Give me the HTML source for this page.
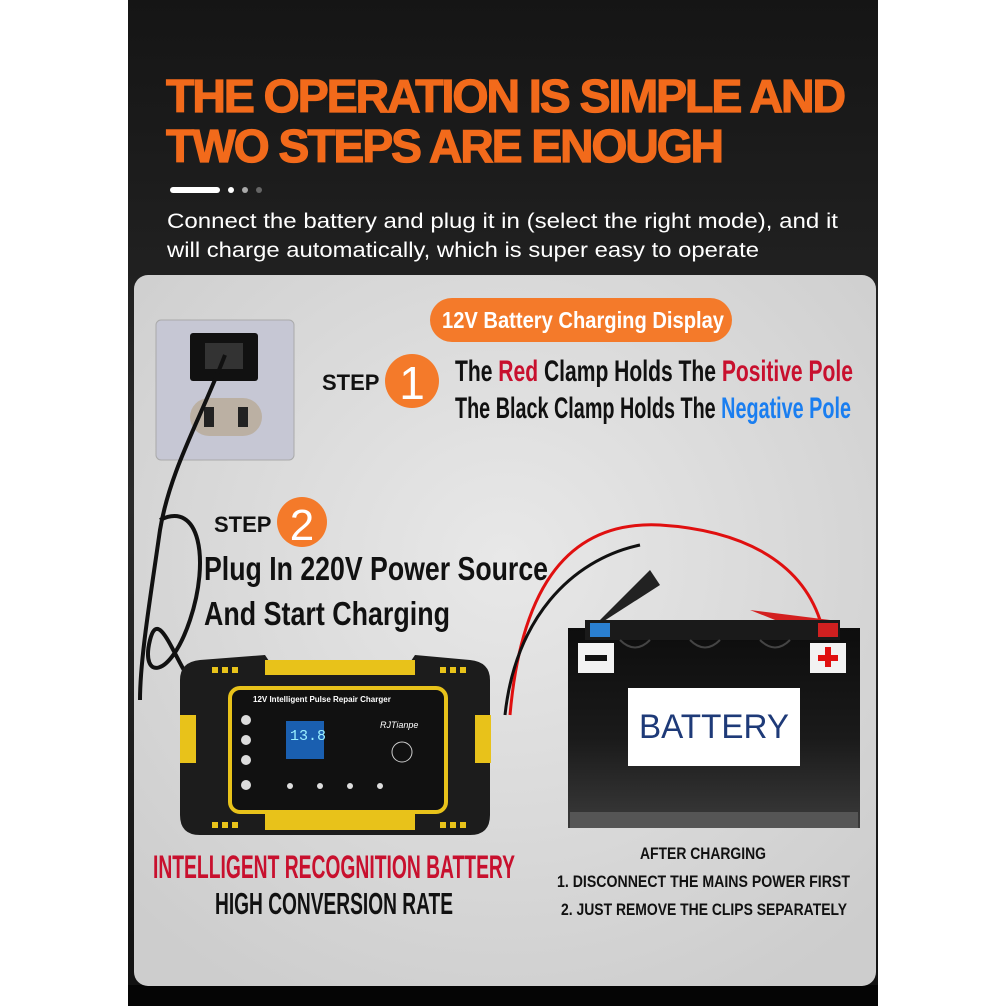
<!DOCTYPE html>
<html><head><meta charset="utf-8"><style>
html,body{margin:0;padding:0;background:#fff;}
svg{display:block;}
</style></head><body>
<svg width="1006" height="1006" viewBox="0 0 1006 1006" xmlns="http://www.w3.org/2000/svg" font-family="Liberation Sans, sans-serif">
<defs>
<linearGradient id="bg" x1="0" y1="0" x2="0" y2="1">
<stop offset="0" stop-color="#151515"/><stop offset="0.5" stop-color="#2a2a2a"/><stop offset="1" stop-color="#111"/>
</linearGradient>
<radialGradient id="pn" cx="0.5" cy="0.4" r="0.7">
<stop offset="0" stop-color="#e8e8e8"/><stop offset="1" stop-color="#cdcdcd"/>
</radialGradient>
<linearGradient id="bat" x1="0" y1="0" x2="0" y2="1">
<stop offset="0" stop-color="#0d0d0d"/><stop offset="0.55" stop-color="#1a1a1a"/><stop offset="1" stop-color="#3a3a3a"/>
</linearGradient>
</defs>
<rect x="128" y="0" width="750" height="1006" fill="url(#bg)"/>
<rect x="128" y="985" width="750" height="21" fill="#050505"/>
<text x="166" y="112" fill="#f26a1b" font-weight="bold" font-size="46" letter-spacing="-2" textLength="678" lengthAdjust="spacingAndGlyphs" stroke="#f26a1b" stroke-width="1.2">THE OPERATION IS SIMPLE AND</text>
<text x="166" y="162" fill="#f26a1b" font-weight="bold" font-size="46" letter-spacing="-2" textLength="556" lengthAdjust="spacingAndGlyphs" stroke="#f26a1b" stroke-width="1.2">TWO STEPS ARE ENOUGH</text>
<rect x="170" y="187" width="50" height="6" rx="3" fill="#fff"/>
<circle cx="231" cy="190" r="3" fill="#fff"/><circle cx="245" cy="190" r="3" fill="#aaa"/><circle cx="259" cy="190" r="3" fill="#666"/>
<text x="167" y="228" fill="#fff" font-size="21" textLength="671" lengthAdjust="spacingAndGlyphs">Connect the battery and plug it in (select the right mode), and it</text>
<text x="167" y="257" fill="#fff" font-size="21" textLength="592" lengthAdjust="spacingAndGlyphs">will charge automatically, which is super easy to operate</text>
<rect x="134" y="275" width="742" height="711" rx="14" fill="url(#pn)"/>
<rect x="430" y="298" width="302" height="44" rx="22" fill="#f47a2a"/>
<text x="442" y="328" fill="#fff" font-size="23" font-weight="bold" textLength="282" lengthAdjust="spacingAndGlyphs">12V Battery Charging Display</text>
<rect x="156" y="320" width="138" height="140" rx="5" fill="#c6c7d4" stroke="#aaa"/>
<rect x="190" y="333" width="68" height="48" rx="3" fill="#111"/>
<rect x="205" y="343" width="38" height="26" fill="#333"/>
<rect x="190" y="398" width="72" height="38" rx="19" fill="#bbb0a3"/>
<rect x="204" y="407" width="10" height="20" fill="#222"/><rect x="238" y="407" width="10" height="20" fill="#222"/>
<path d="M225 355 C200 420 170 470 160 530 C150 600 140 660 140 700" stroke="#111" stroke-width="4" fill="none"/>
<path d="M160 520 C200 500 210 560 190 620 C170 680 140 680 150 640 C160 600 180 680 200 690" stroke="#111" stroke-width="4" fill="none"/>
<text x="322" y="390" font-size="22" font-weight="bold" fill="#111">STEP</text>
<circle cx="412" cy="381" r="27" fill="#f47a2a"/>
<text x="412" y="399" font-size="46" fill="#fff" text-anchor="middle">1</text>
<text x="455" y="381" font-size="30" font-weight="bold" fill="#111" textLength="398" lengthAdjust="spacingAndGlyphs">The <tspan fill="#c8102e">Red</tspan> Clamp Holds The <tspan fill="#c8102e">Positive Pole</tspan></text>
<text x="455" y="418" font-size="30" font-weight="bold" fill="#111" textLength="396" lengthAdjust="spacingAndGlyphs">The Black Clamp Holds The <tspan fill="#1a7ef0">Negative Pole</tspan></text>
<text x="214" y="532" font-size="22" font-weight="bold" fill="#111">STEP</text>
<circle cx="302" cy="522" r="25" fill="#f47a2a"/>
<text x="302" y="540" font-size="44" fill="#fff" text-anchor="middle">2</text>
<text x="204" y="580" font-size="33" font-weight="bold" fill="#111" textLength="344" lengthAdjust="spacingAndGlyphs">Plug In 220V Power Source</text>
<text x="204" y="625" font-size="33" font-weight="bold" fill="#111" textLength="246" lengthAdjust="spacingAndGlyphs">And Start Charging</text>
<path d="M510 715 C520 600 560 520 660 525 C740 530 800 560 820 620" stroke="#e01010" stroke-width="3" fill="none"/>
<path d="M505 715 C515 620 570 560 640 545" stroke="#111" stroke-width="3" fill="none"/>
<path d="M590 630 L650 570 L660 585 Z" fill="#222"/>
<path d="M750 610 L830 620 L825 640 Z" fill="#d32020"/>
<rect x="568" y="628" width="292" height="200" fill="url(#bat)"/>
<rect x="585" y="620" width="255" height="20" fill="#1a1a1a"/>
<path d="M620 640 Q635 655 650 640 M690 640 Q705 655 720 640 M760 640 Q775 655 790 640" stroke="#444" stroke-width="2" fill="none"/>
<rect x="590" y="623" width="20" height="14" fill="#2a7fd0"/>
<rect x="818" y="623" width="20" height="14" fill="#d02020"/>
<rect x="578" y="643" width="36" height="30" fill="#f2f2f2"/>
<rect x="585" y="655" width="22" height="6" fill="#111"/>
<rect x="810" y="643" width="36" height="30" fill="#f2f2f2"/>
<rect x="818" y="655" width="20" height="6" fill="#e01010"/><rect x="825" y="647" width="6" height="20" fill="#e01010"/>
<rect x="570" y="812" width="288" height="16" fill="#555"/>
<rect x="628" y="688" width="172" height="78" fill="#fff"/>
<text x="714" y="738" font-size="34" fill="#1e3a78" text-anchor="middle" textLength="150" lengthAdjust="spacingAndGlyphs">BATTERY</text>
<path d="M200 660 L265 655 L275 670 L405 670 L415 655 L470 660 Q490 662 490 680 L490 815 Q490 835 470 835 L200 835 Q180 835 180 815 L180 680 Q180 662 200 660 Z" fill="#1c1c1c"/>
<rect x="265" y="660" width="150" height="15" fill="#e8c21a"/>
<rect x="265" y="810" width="150" height="20" fill="#e8c21a"/>
<rect x="180" y="715" width="16" height="48" fill="#e8c21a"/>
<rect x="475" y="715" width="16" height="48" fill="#e8c21a"/>
<rect x="230" y="688" width="216" height="124" rx="10" fill="#111" stroke="#e8c21a" stroke-width="4"/>
<rect x="286" y="721" width="38" height="38" fill="#1a5fb0"/>
<text x="290" y="740" font-size="15" fill="#9ef" font-family="Liberation Mono, monospace">13.8</text>
<text x="253" y="702" font-size="8" fill="#fff" font-weight="bold">12V Intelligent Pulse Repair Charger</text>
<text x="380" y="728" font-size="9" fill="#fff" font-style="italic">RJTianpe</text>
<circle cx="402" cy="752" r="10" fill="none" stroke="#ccc"/>
<g fill="#ddd"><circle cx="246" cy="720" r="5"/><circle cx="246" cy="740" r="5"/><circle cx="246" cy="760" r="5"/><circle cx="246" cy="785" r="5"/>
<circle cx="290" cy="786" r="3"/><circle cx="320" cy="786" r="3"/><circle cx="350" cy="786" r="3"/><circle cx="380" cy="786" r="3"/></g>
<g fill="#e8c21a"><rect x="212" y="667" width="6" height="6"/><rect x="222" y="667" width="6" height="6"/><rect x="232" y="667" width="6" height="6"/><rect x="440" y="667" width="6" height="6"/><rect x="450" y="667" width="6" height="6"/><rect x="460" y="667" width="6" height="6"/>
<rect x="212" y="822" width="6" height="6"/><rect x="222" y="822" width="6" height="6"/><rect x="232" y="822" width="6" height="6"/><rect x="440" y="822" width="6" height="6"/><rect x="450" y="822" width="6" height="6"/><rect x="460" y="822" width="6" height="6"/></g>
<text x="153" y="878" font-size="32" font-weight="bold" fill="#c8102e" textLength="362" lengthAdjust="spacingAndGlyphs">INTELLIGENT RECOGNITION BATTERY</text>
<text x="215" y="914" font-size="31" font-weight="bold" fill="#111" textLength="238" lengthAdjust="spacingAndGlyphs">HIGH CONVERSION RATE</text>
<text x="703" y="859" font-size="17" font-weight="bold" fill="#111" text-anchor="middle" textLength="126" lengthAdjust="spacingAndGlyphs">AFTER CHARGING</text>
<text x="557" y="887" font-size="17" font-weight="bold" fill="#111" textLength="293" lengthAdjust="spacingAndGlyphs">1. DISCONNECT THE MAINS POWER FIRST</text>
<text x="561" y="915" font-size="17" font-weight="bold" fill="#111" textLength="286" lengthAdjust="spacingAndGlyphs">2. JUST REMOVE THE CLIPS SEPARATELY</text>
</svg>
</body></html>
